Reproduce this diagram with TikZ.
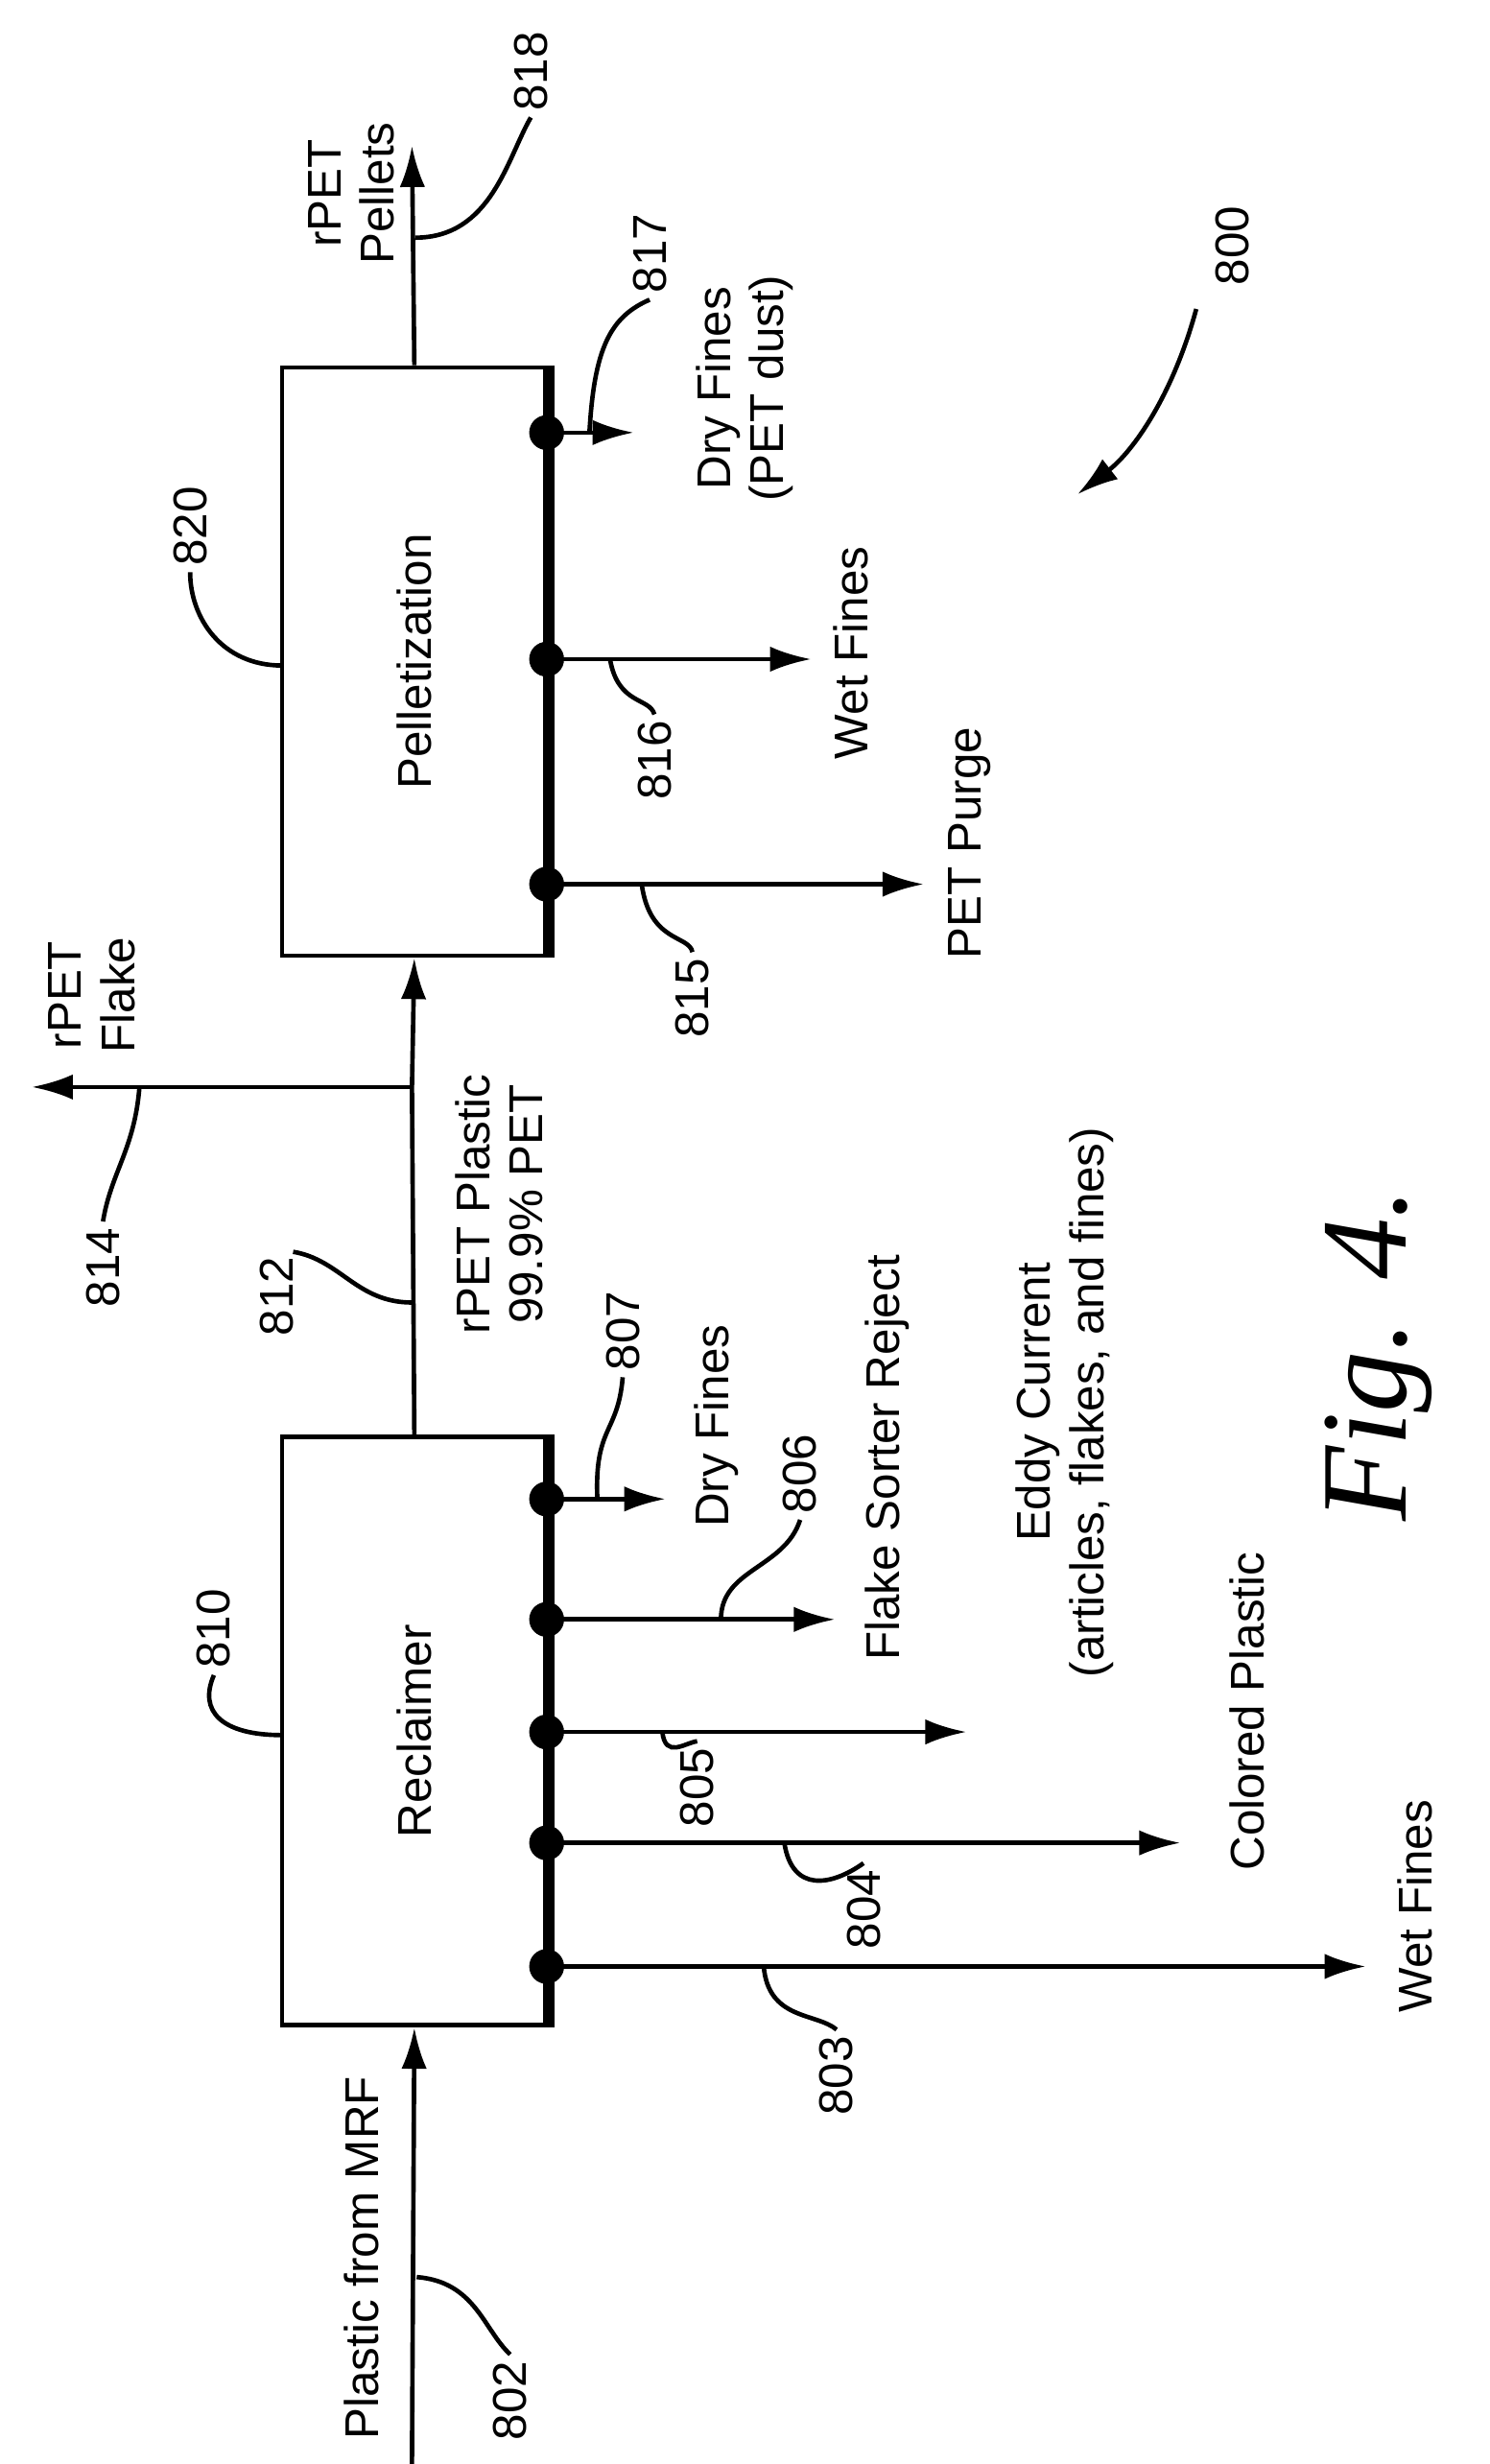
\documentclass[tikz,border=0pt]{standalone}
\usepackage{fontspec}
\setmainfont{Liberation Sans}
\usetikzlibrary{arrows.meta}
\begin{document}
\begin{tikzpicture}[x=0.01cm,y=-0.01cm,font=\fontsize{8.5}{9.5}\selectfont,
  box/.style={draw,line width=0.8pt,minimum width=1.67cm,minimum height=3.71cm,inner sep=0pt},
  flow/.style={line width=0.8pt,-{Latex[length=2.6mm,width=1.6mm]}},
  lead/.style={line width=0.8pt},
  lbl/.style={rotate=90,align=center,inner sep=1pt},
  dot/.style={circle,fill,inner sep=0pt,minimum size=2.2mm}]
\useasboundingbox (0,0) rectangle (940,1555);
% Blocks
\node[box] (rec) at (261.5,1092.5) {};
\node[box] (pel) at (261.5,417.5) {};
\node[lbl] at (rec) {Reclaimer};
\node[lbl] at (pel) {Pelletization};
\draw[line width=2pt] (rec.north east) -- (rec.south east);
\draw[line width=2pt] (pel.north east) -- (pel.south east);
% Main line
\coordinate (in) at (260,1555);
\coordinate (br) at (260,686);
\coordinate (flk) at (20,686);
\coordinate (out) at (260,92);
\draw[flow] (in) -- (rec.south);
\draw[line width=0.8pt] (rec.north) -- (br);
\draw[flow] (br) -- (pel.south);
\draw[flow] (br) -- (flk);
\draw[flow] (pel.north) -- (out);
\node[lbl] at (228,1425) {Plastic from MRF};
\node[lbl] at (58,628) {rPET\\Flake};
\node[lbl] at (315,760) {rPET Plastic\\99.9\% PET};
\node[lbl] at (222,122) {rPET\\Pellets};
% Reclaimer outputs
\foreach \y/\x [count=\i] in {946/420,1022/527,1093/610,1163/745,1241/862}{
  \node[dot] (r\i) at (345,\y) {};
  \coordinate (re\i) at (\x,\y);
  \draw[flow] (r\i.center) -- (re\i);
}
\node[lbl] at (452,900) {Dry Fines};
\node[lbl] at (560,920) {Flake Sorter Reject};
\node[lbl] at (672,885) {Eddy Current\\(articles, flakes, and fines)};
\node[lbl] at (787,1080) {Colored Plastic};
\node[lbl] at (893,1203) {Wet Fines};
% Pelletization outputs
\foreach \y/\x [count=\i] in {273/400,416/512,558/583}{
  \node[dot] (p\i) at (345,\y) {};
  \coordinate (pe\i) at (\x,\y);
  \draw[flow] (p\i.center) -- (pe\i);
}
\node[lbl] at (470,245) {Dry Fines\\(PET dust)};
\node[lbl] at (537,412) {Wet Fines};
\node[lbl] at (612,532) {PET Purge};
% Reference numerals
\node[lbl] (n802) at (322,1515) {802};
\draw[lead] (263,1437) .. controls (300,1440) and (305,1470) .. (n802.east);
\node[lbl] (n803) at (528,1310) {803};
\draw[lead] (482,1241) .. controls (485,1275) and (515,1270) .. (n803.east);
\node[lbl] (n804) at (545,1205) {804};
\draw[lead] (495,1163) .. controls (500,1195) and (525,1190) .. (n804.east);
\node[lbl] (n805) at (440,1128) {805};
\draw[lead] (418,1093) .. controls (420,1110) and (432,1100) .. (n805.east);
\node[lbl] (n806) at (505,930) {806};
\draw[lead] (455,1022) .. controls (455,990) and (495,990) .. (n806.west);
\node[lbl] (n807) at (393,840) {807};
\draw[lead] (377,946) .. controls (375,900) and (390,905) .. (n807.west);
\node[lbl] (n812) at (175,818) {812};
\draw[lead] (260,822) .. controls (225,822) and (215,795) .. (185,790);
\node[lbl] (n814) at (65,800) {814};
\draw[lead] (88,686) .. controls (85,725) and (70,740) .. (n814.east);
\node[lbl] (n815) at (437,630) {815};
\draw[lead] (405,558) .. controls (410,595) and (435,590) .. (n815.east);
\node[lbl] (n816) at (413,480) {816};
\draw[lead] (385,416) .. controls (390,445) and (410,440) .. (n816.east);
\node[lbl] (n817) at (410,160) {817};
\draw[lead] (372,273) .. controls (375,220) and (385,200) .. (n817.west);
\node[lbl] (n818) at (335,45) {818};
\draw[lead] (262,150) .. controls (310,150) and (320,100) .. (n818.west);
\node[lbl] (n820) at (120,332) {820};
\draw[lead] (178,420) .. controls (140,420) and (120,390) .. (n820.west);
\node[lbl] (n810) at (135,1028) {810};
\draw[lead] (178,1095) .. controls (140,1095) and (125,1080) .. (n810.west);
\node[lbl] (n800) at (778,155) {800};
\coordinate (a800) at (680,312);
\draw[flow] (755,195) .. controls (740,250) and (715,285) .. (a800);
\node[rotate=90,font=\fontsize{22}{22}\selectfont\itshape\fontspec{Liberation Serif}] at (870,855) {Fig. 4.};
\end{tikzpicture}
\end{document}
